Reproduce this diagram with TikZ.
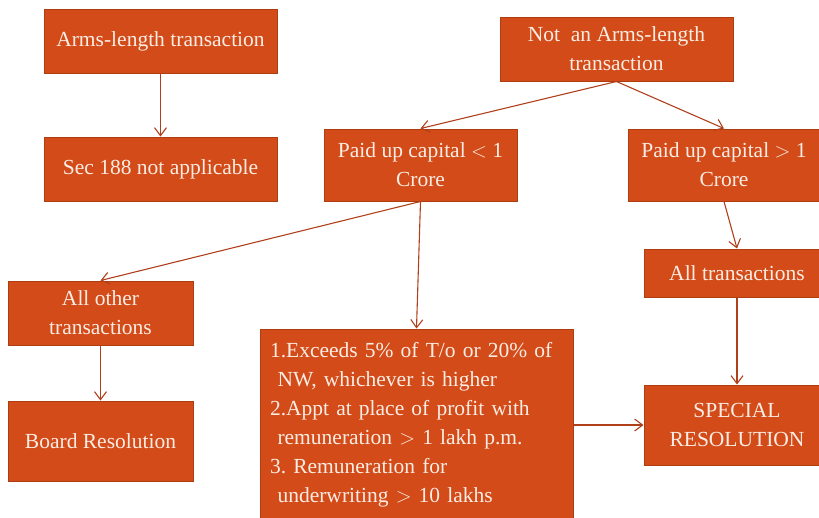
\documentclass[tikz,border=0pt]{standalone}
\usepackage{fontspec}
\setmainfont{Liberation Serif}
\usetikzlibrary{arrows.meta}
\definecolor{boxfill}{HTML}{D24B19}
\definecolor{boxedge}{HTML}{AE3D12}
\definecolor{wire}{HTML}{B0401C}
\definecolor{paper}{HTML}{FBEDE4}
\frenchspacing

\begin{document}
\begin{tikzpicture}[x=1pt,y=-1pt,
  font=\fontsize{21.5}{29}\selectfont,
  box/.style={draw=boxedge,line width=1pt,fill=boxfill,text=paper,
    inner sep=0pt,align=center},
  flow/.style={wire,line width=1.1pt,
    -{Straight Barb[length=8pt,width=12pt]}}]
  \useasboundingbox (0,0) rectangle (819,517);
  \clip (0,0) rectangle (819,517);

  % left column
  \node[box,minimum width=233pt,minimum height=64pt] (arms) at (160.5,41)
    {Arms-length transaction};
  \node[box,minimum width=233pt,minimum height=64pt] (secna) at (160.5,169)
    {Sec 188 not applicable};
  \node[box,minimum width=185pt,minimum height=64pt] (allother) at (100.5,313)
    {All other\\transactions};
  \node[box,minimum width=185pt,minimum height=80pt] (boardres) at (100.5,441)
    {Board Resolution};

  % middle
  \node[box,minimum width=233pt,minimum height=64pt] (notarms) at (616.5,49)
    {Not\ \ an Arms-length\\transaction};
  \node[box,minimum width=193pt,minimum height=72pt] (pucless) at (420.5,165)
    {Paid up capital $<$ 1\\Crore};
  \node[box,minimum width=313pt,minimum height=192pt,text width=293pt,
    align=left] (cond) at (416.5,425)
    {1.Exceeds 5\% of T/o or 20\% of\\
     \hspace*{0.35em}NW, whichever is higher\\
     2.Appt at place of profit with\\
     \hspace*{0.35em}remuneration $>$ 1 lakh p.m.\\
     3. Remuneration for\\
     \hspace*{0.35em}underwriting $>$ 10 lakhs};

  % right column
  \node[box,minimum width=192pt,minimum height=72pt] (pucmore) at (724,165)
    {Paid up capital $>$ 1\\Crore};
  \node[box,minimum width=186pt,minimum height=48pt] (alltrans) at (737,273)
    {All transactions};
  \node[box,minimum width=186pt,minimum height=80pt] (specres) at (737,425)
    {SPECIAL\\RESOLUTION};

  \draw[flow] (arms.south) -- (secna.north);
  \draw[flow] (notarms.south) -- (pucless.north);
  \draw[flow] (notarms.south) -- (pucmore.north);
  \draw[flow] (pucless.south) -- (allother.north);
  \draw[flow] (pucless.south) -- (cond.north);
  \draw[flow] (allother.south) -- (boardres.north);
  \draw[flow] (pucmore.south) -- (alltrans.north);
  \draw[flow] (alltrans.south) -- (specres.north);
  \draw[flow] (cond.east) -- (specres.west);
\end{tikzpicture}
\end{document}
